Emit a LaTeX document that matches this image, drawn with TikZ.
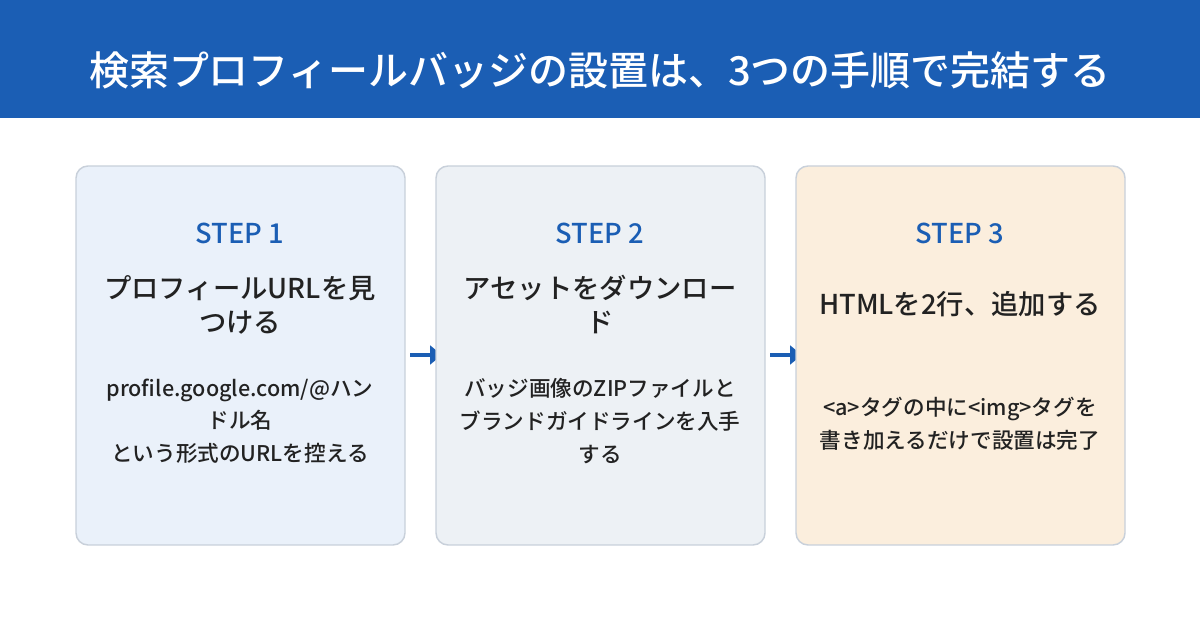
\documentclass[tikz,border=0pt]{standalone}
\usepackage{fontspec}
\setmainfont{Noto Sans CJK JP}
\newfontfamily\med{Noto Sans CJK JP Medium}
\usetikzlibrary{arrows.meta}
\definecolor{hdr}{HTML}{1B5EB4}
\definecolor{bd}{HTML}{C8D0DA}
\definecolor{fa}{HTML}{EAF1FA}
\definecolor{fb}{HTML}{EDF1F5}
\definecolor{fc}{HTML}{FBEEDD}
\definecolor{txt}{HTML}{222222}
\begin{document}
\begin{tikzpicture}[x=0.75pt,y=-0.75pt,
 box/.style={draw=bd,line width=1.1pt,rounded corners=9pt},
 steplbl/.style={text=hdr,font=\med\fontsize{20.5}{23}\selectfont},
 ttl/.style={text=txt,align=center,font=\med\fontsize{20.5}{25.5}\selectfont},
 body/.style={text=txt,align=center,font=\med\fontsize{16.2}{24.5}\selectfont},
 arr/.style={draw=hdr,line width=3pt,-{Triangle[length=9pt,width=14pt]}}]
\useasboundingbox (0,0) rectangle (1200,630);
\fill[hdr] (0,0) rectangle (1200,118);
\node[text=white,font=\med\fontsize{30}{32}\selectfont] (title) at (600,70) {検索プロフィールバッジの設置は、3つの手順で完結する};
\coordinate (a1) at (410,355); \coordinate (a2) at (442,355);
\coordinate (b1) at (770,355); \coordinate (b2) at (802,355);
\draw[arr] (a1) -- (a2);
\draw[arr] (b1) -- (b2);
\draw[box,fill=fa] (76,166) rectangle (405,545);
\draw[box,fill=fb] (436,166) rectangle (765,545);
\draw[box,fill=fc] (796,166) rectangle (1125,545);
\node[steplbl] (s1) at (240,233) {STEP 1};
\node[steplbl] (s2) at (600,233) {STEP 2};
\node[steplbl] (s3) at (960,233) {STEP 3};
\node[ttl] (t1) at (240,305) {プロフィールURLを見\\つける};
\node[ttl] (t2) at (600,305) {アセットをダウンロー\\ド};
\node[ttl] (t3) at (960,304) {HTMLを2行、追加する};
\node[body] (d1) at (240,421) {profile.google.com/@ハン\\ドル名\\という形式のURLを控える};
\node[body] (d2) at (600,421) {バッジ画像のZIPファイルと\\ブランドガイドラインを入手\\する};
\node[body] (d3) at (960,424) {<a>タグの中に<img>タグを\\書き加えるだけで設置は完了};
\end{tikzpicture}
\end{document}
